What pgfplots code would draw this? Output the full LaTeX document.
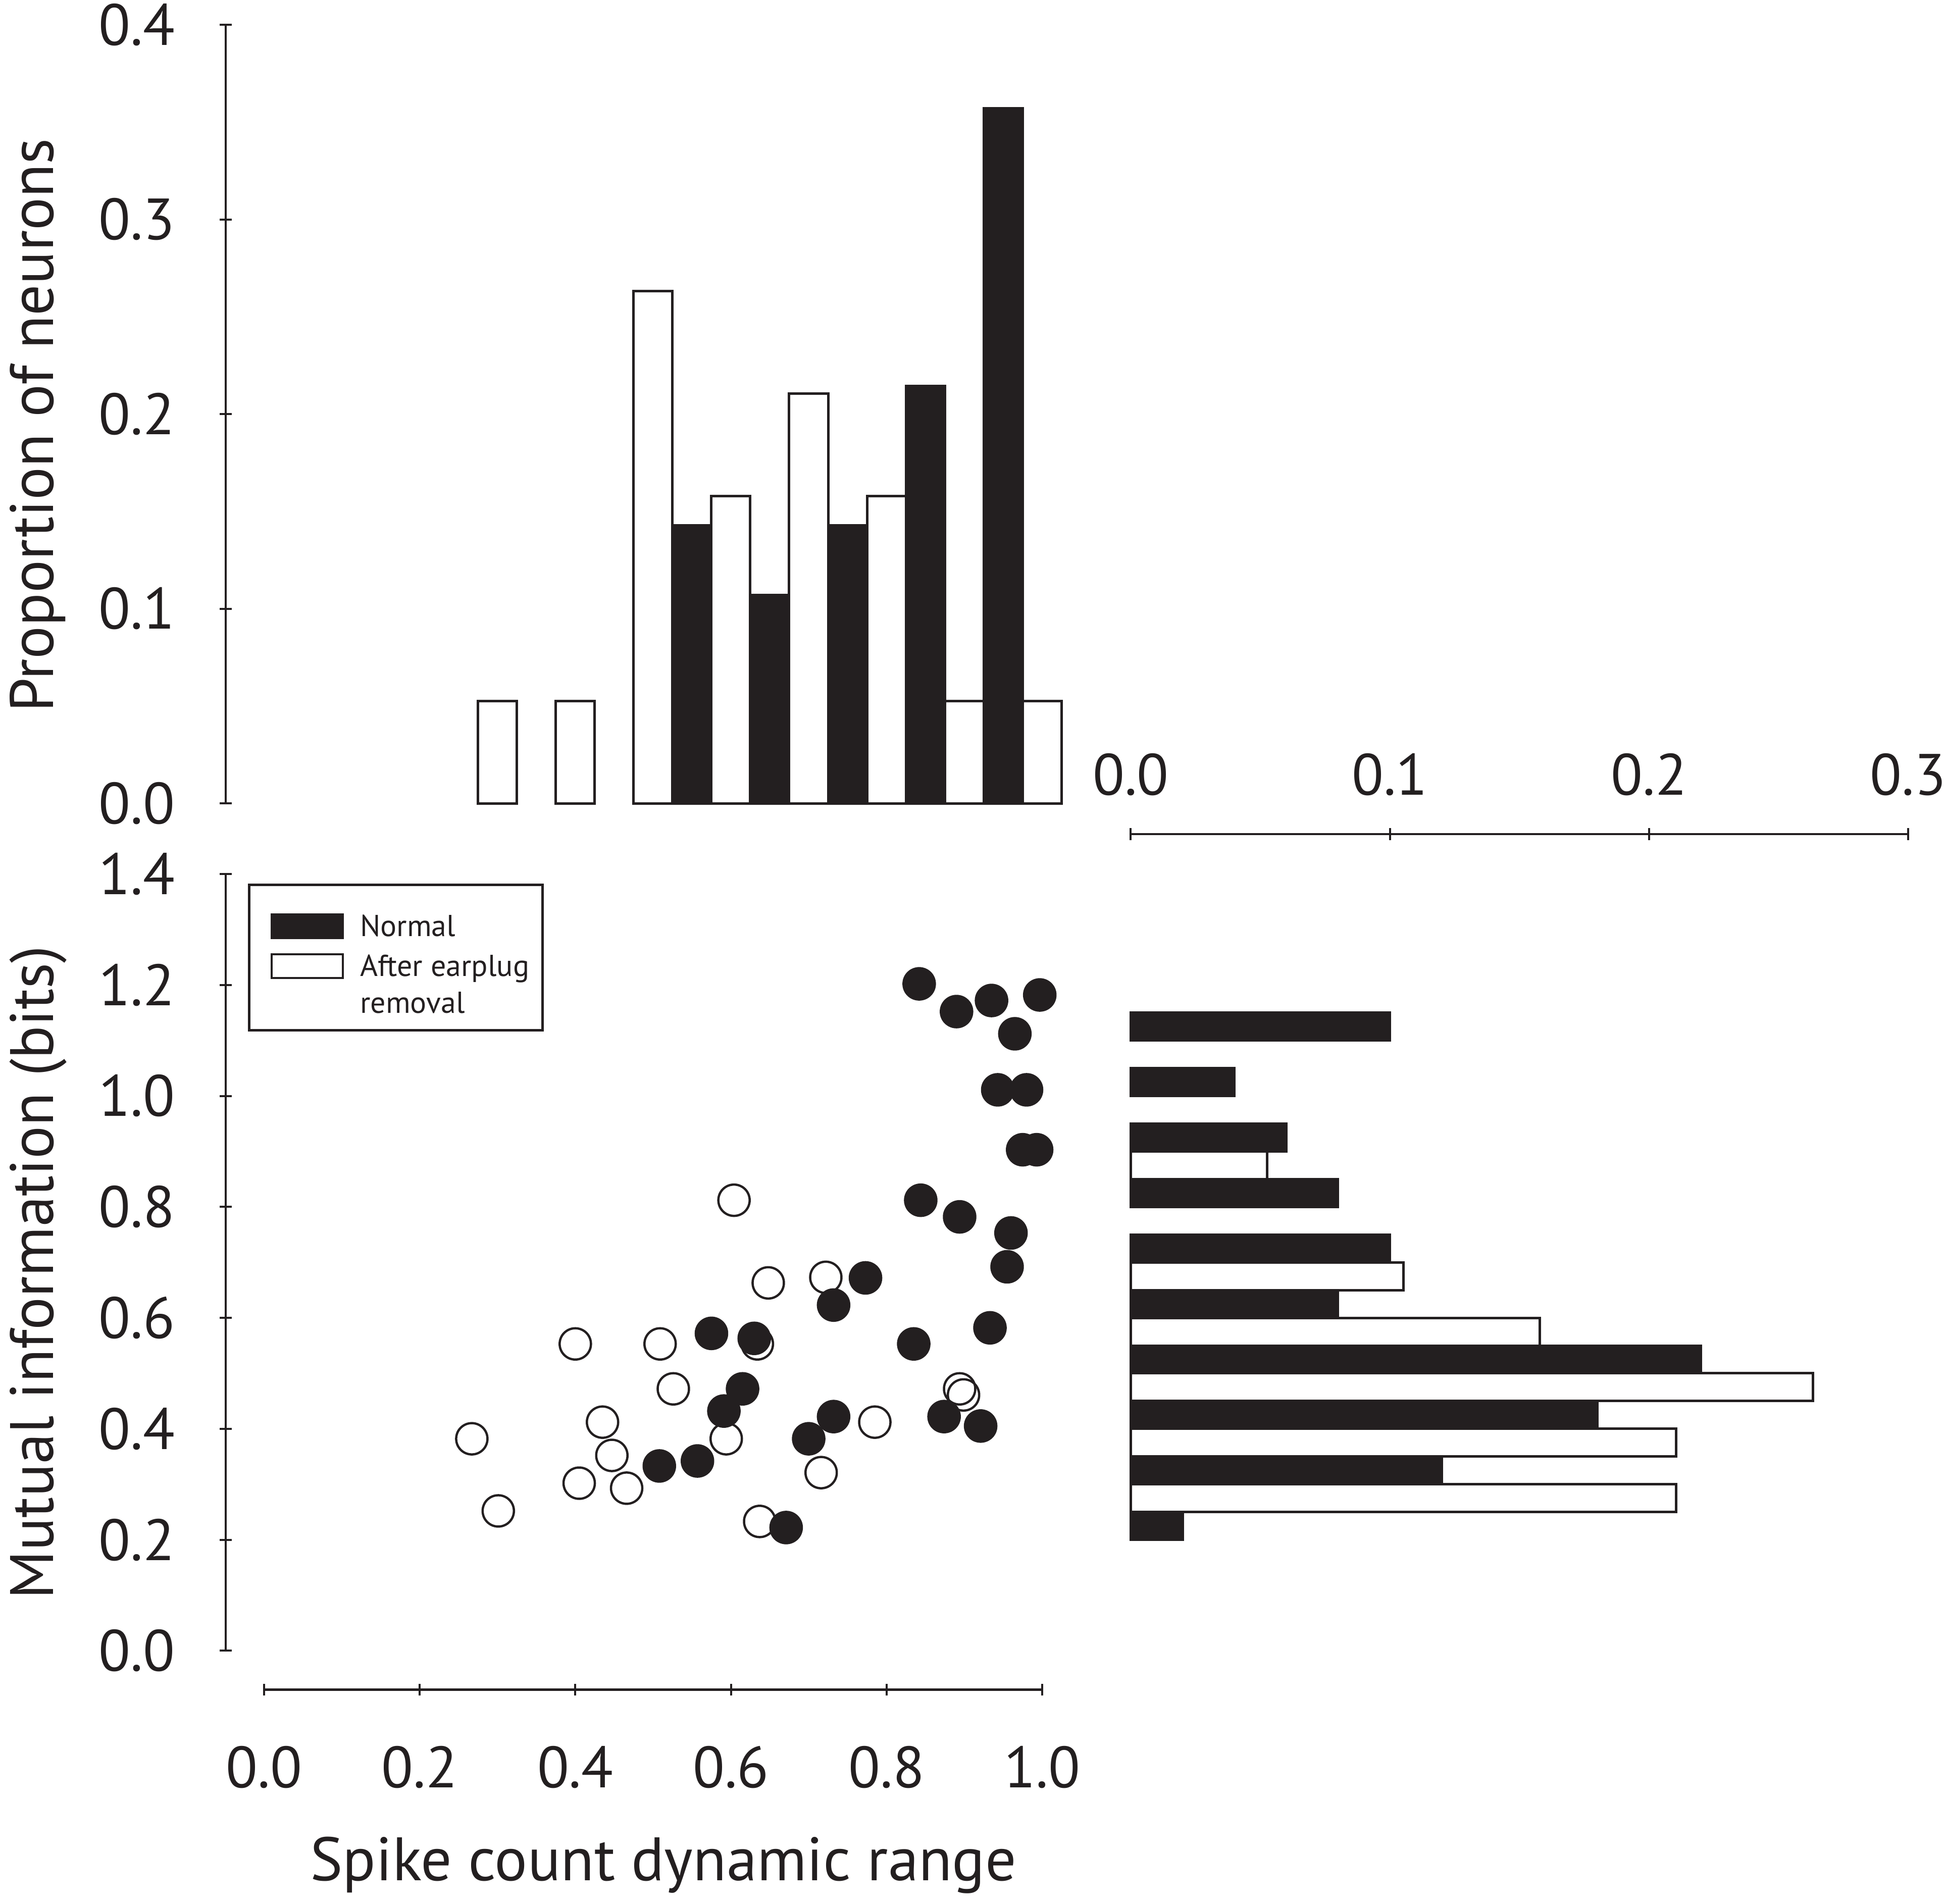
\documentclass[border=0pt]{standalone}
\usepackage{pgfplots}
\pgfplotsset{compat=1.18}
\usepackage{fontspec}
\setmainfont{PT Sans}
\definecolor{ink}{RGB}{35,31,32}
\newcommand\tickfont{\fontsize{23.1}{27}\selectfont}
\newcommand\labfont{\fontsize{24.3}{28}\selectfont}
\newcommand\legfont{\fontsize{12.0}{14.5}\selectfont}
\pgfplotsset{
  every axis/.append style={
    scale only axis, clip=false,
    tick align=outside, major tick length=4.7pt,
    tick style={ink, line width=0.8pt},
    tick label style={font=\tickfont, text=ink, inner sep=0pt},
    /pgf/number format/fixed, /pgf/number format/fixed zerofill,
    /pgf/number format/precision=1, /pgf/number format/assume math mode=true,
  },
}
\begin{document}
\begin{tikzpicture}
\useasboundingbox (0,0) rectangle (770pt,754pt);
% ---------- scatter ----------
\begin{axis}[
  at={(89.38pt,84.66pt)}, anchor=south west,
  width=323.38pt, height=323.13pt,
  xmin=-0.0494, xmax=1, ymin=-0.0704, ymax=1.4,
  axis x line=bottom, axis y line=left,
  axis line style={draw=none},
  xtick={0,0.2,0.4,0.6,0.8,1},
  ytick={0,0.2,0.4,0.6,0.8,1,1.2,1.4},
  xticklabel shift=19.7pt, yticklabel shift=17.6pt,
  xticklabel style={anchor=north}, yticklabel style={anchor=east},
  every axis x label/.style={at={(axis description cs:0.536,-0.234)}, anchor=base, font=\labfont, text=ink},
  every axis y label/.style={at={(axis description cs:-0.2111,0.5114)}, anchor=base, rotate=90, font=\labfont, text=ink},
  xlabel={Spike count dynamic range},
  ylabel={Mutual information (bits)},
  legend style={at={(axis description cs:0.02885,0.9868)}, anchor=north west,
    draw=ink, line width=1pt, fill=white, outer sep=0pt,
    inner xsep=5.3pt, inner ysep=2pt, row sep=4.25pt, column sep=6.4pt,
    font=\legfont, text=ink, nodes={inner sep=0pt}, cells={anchor=base west}},
]
\draw[ink, line width=0.9pt] (axis cs:0,-0.0704) -- (axis cs:1,-0.0704);
\draw[ink, line width=0.9pt] (axis cs:-0.0494,0) -- (axis cs:-0.0494,1.4);
\addlegendimage{legend image code/.code={\draw[ink, fill=ink, line width=0.7pt] (0pt,-0.7pt) rectangle (28.3pt,8.8pt); \path (-3.05pt,17.9pt);}}
\addlegendentry{Normal}
\addlegendimage{legend image code/.code={\draw[ink, fill=white, line width=0.8pt] (0pt,-0.7pt) rectangle (28.3pt,8.8pt); \path (-3.05pt,-18.85pt);}}
\addlegendentry{\begin{tabular}[t]{@{}l@{}}After earplug\\removal\end{tabular}}
% After earplug removal (open)
\addplot[only marks, mark=o, mark size=6.2pt, mark options={draw=ink, line width=0.9pt}, forget plot] coordinates {
(0.604,0.812) (0.648,0.663) (0.722,0.673) (0.400,0.553) (0.509,0.553)
(0.634,0.553) (0.526,0.472) (0.894,0.472) (0.899,0.461) (0.435,0.412)
(0.785,0.412) (0.594,0.382) (0.267,0.382) (0.447,0.352) (0.405,0.302)
(0.466,0.293) (0.716,0.321) (0.301,0.252) (0.637,0.233)
};
% Normal (filled)
\addplot[only marks, mark=*, mark size=6.2pt, mark options={draw=ink, fill=ink, line width=0.9pt}, forget plot] coordinates {
(0.842,1.202) (0.890,1.152) (0.935,1.172) (0.997,1.182) (0.965,1.112)
(0.943,1.011) (0.980,1.011) (0.975,0.903) (0.993,0.903) (0.844,0.812)
(0.894,0.782) (0.960,0.753) (0.955,0.692) (0.773,0.672) (0.732,0.623)
(0.575,0.572) (0.630,0.563) (0.835,0.553) (0.933,0.582) (0.615,0.472)
(0.591,0.432) (0.732,0.422) (0.874,0.422) (0.921,0.405) (0.700,0.382)
(0.557,0.342) (0.508,0.333) (0.671,0.222)
};
\end{axis}
% ---------- top histogram ----------
\begin{axis}[
  at={(89.38pt,435.79pt)}, anchor=south west,
  width=332.6pt, height=308.40pt,
  xmin=-0.0494, xmax=1.03, ymin=0, ymax=0.4,
  axis y line=left, axis x line=none,
  axis line style={-, ink, line width=0.9pt},
  ytick={0,0.1,0.2,0.3,0.4},
  yticklabel shift=17.6pt, yticklabel style={anchor=east},
  every axis y label/.style={at={(axis description cs:-0.2052,0.4857)}, anchor=base, rotate=90, font=\labfont, text=ink},
  ylabel={Proportion of neurons},
  ybar, bar width=0.05,
]
\addplot[fill=white, draw=ink, line width=1pt, bar shift=0pt] coordinates {
(0.30,0.0526) (0.40,0.0526) (0.50,0.2632) (0.60,0.1579)
(0.70,0.2105) (0.80,0.1579) (0.90,0.0526) (1.00,0.0526)
};
\addplot[fill=ink, draw=ink, line width=1pt, bar shift=0pt] coordinates {
(0.55,0.1429) (0.65,0.1071) (0.75,0.1429) (0.85,0.2143) (0.95,0.3571)
};
\end{axis}
% ---------- side histogram ----------
\begin{axis}[
  at={(447.87pt,144.08pt)}, anchor=south west,
  width=307.91pt, height=279.53pt,
  xmin=0, xmax=0.3, ymin=0.2, ymax=1.472,
  axis x line=top, axis y line=none,
  axis line style={-, ink, line width=0.9pt},
  xtick={0,0.1,0.2,0.3},
  xticklabel shift=12.6pt, xticklabel style={anchor=south},
  xbar, bar width=0.05,
]
\addplot[fill=white, draw=ink, line width=1pt, bar shift=0pt] coordinates {
(0.2105,0.275) (0.2105,0.375) (0.2632,0.475) (0.1579,0.575)
(0.1053,0.675) (0.0526,0.875)
};
\addplot[fill=ink, draw=ink, line width=1pt, bar shift=0pt] coordinates {
(0.02,0.225) (0.12,0.325) (0.18,0.425) (0.22,0.525) (0.08,0.625)
(0.10,0.725) (0.08,0.825) (0.06,0.925) (0.04,1.025) (0.10,1.125)
};
\end{axis}
\end{tikzpicture}
\end{document}
